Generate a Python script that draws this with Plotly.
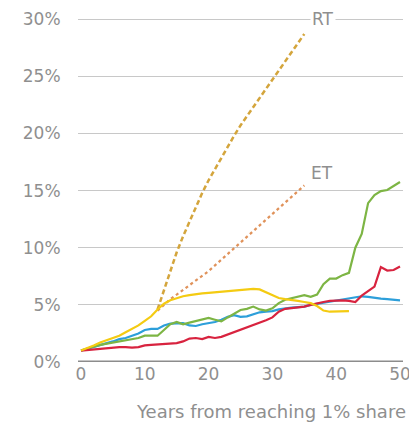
import plotly.graph_objects as go

years_yellow = list(range(0, 43))
yellow = [1.0, 1.2, 1.45, 1.7, 1.9, 2.05, 2.3, 2.6, 2.9, 3.2, 3.6, 4.0, 4.6, 5.1, 5.4, 5.6,
          5.75, 5.85, 5.95, 6.0, 6.05, 6.1, 6.15, 6.2, 6.25, 6.3, 6.35, 6.4, 6.35, 6.1, 5.8,
          5.6, 5.5, 5.45, 5.35, 5.25, 5.15, 4.9, 4.5, 4.4, 4.4, 4.45, 4.45]

years_full = list(range(0, 51))
blue = [1.0, 1.15, 1.3, 1.5, 1.65, 1.8, 2.0, 2.1, 2.3, 2.5, 2.8, 2.9, 2.9, 3.2, 3.35, 3.4,
        3.4, 3.2, 3.15, 3.3, 3.4, 3.5, 3.7, 3.95, 4.1, 3.95, 4.0, 4.2, 4.35, 4.4, 4.45,
        4.6, 4.7, 4.75, 4.8, 4.85, 5.0, 5.1, 5.2, 5.3, 5.4, 5.5, 5.55, 5.7, 5.75, 5.7,
        5.6, 5.55, 5.5, 5.45, 5.4]
green = [1.0, 1.2, 1.35, 1.5, 1.6, 1.7, 1.8, 1.85, 1.95, 2.1, 2.3, 2.3, 2.3, 2.8, 3.3, 3.5,
         3.3, 3.45, 3.6, 3.75, 3.85, 3.7, 3.55, 3.9, 4.25, 4.55, 4.65, 4.85, 4.6, 4.5, 4.7,
         5.15, 5.45, 5.6, 5.75, 5.85, 5.7, 5.9, 6.8, 7.3, 7.3, 7.6, 7.8, 10.0, 11.2, 13.9,
         14.6, 14.95, 15.05, 15.4, 15.75]
red = [1.0, 1.05, 1.1, 1.15, 1.25, 1.3, 1.3, 1.3, 1.25, 1.3, 1.45, 1.5, 1.55, 1.6, 1.6, 1.65,
       1.8, 2.05, 2.1, 2.0, 2.2, 2.1, 2.2, 2.4, 2.6, 2.85, 3.05, 3.25, 3.45, 3.65, 3.9,
       4.4, 4.65, 4.7, 4.8, 4.85, 5.0, 5.15, 5.25, 5.35, 5.4, 5.4, 5.35, 5.25, 5.8, 6.2,
       6.6, 8.3, 8.0, 8.05, 8.35]

years_proj = list(range(12, 36))
rt = [4.6, 6.3, 8.0, 9.6, 11.0, 12.3, 13.6, 14.8, 15.9, 16.9, 17.9, 18.9, 19.8, 20.7, 21.5,
      22.3, 23.1, 23.9, 24.7, 25.5, 26.3, 27.1, 27.9, 28.7]
et = [4.5, 5.0, 5.5, 5.9, 6.3, 6.7, 7.1, 7.5, 7.95, 8.45, 8.95, 9.45, 9.95, 10.45, 10.95,
      11.45, 11.95, 12.45, 12.95, 13.45, 13.95, 14.45, 14.95, 15.45]

y_ticks = [0, 5, 10, 15, 20, 25, 30]
y_tick_labels = ["0%", "5%", "10%", "15%", "20%", "25%", "30%"]
x_ticks = [0, 10, 20, 30, 40, 50]

fig = go.Figure()
fig.add_trace(go.Scatter(x=years_proj, y=rt, mode="lines",
                         line=dict(color="#D4A53C", width=2.5, dash="5px,3px")))
fig.add_trace(go.Scatter(x=years_proj, y=et, mode="lines",
                         line=dict(color="#E0925A", width=2.2, dash="3px,3px")))
fig.add_trace(go.Scatter(x=years_full, y=blue, mode="lines",
                         line=dict(color="#2D9FDA", width=2.2)))
fig.add_trace(go.Scatter(x=years_full, y=green, mode="lines",
                         line=dict(color="#7DB544", width=2.2)))
fig.add_trace(go.Scatter(x=years_full, y=red, mode="lines",
                         line=dict(color="#D8233F", width=2.2)))
fig.add_trace(go.Scatter(x=years_yellow, y=yellow, mode="lines",
                         line=dict(color="#F4CB12", width=2.2)))

font_family = "DejaVu Sans, sans-serif"
text_color = "#8f8f8f"
fig.add_annotation(x=37.9, y=30, text="RT", showarrow=False, bgcolor="white",
                   font=dict(family=font_family, size=17, color=text_color))
fig.add_annotation(x=37.7, y=16.5, text="ET", showarrow=False, bgcolor="white",
                   font=dict(family=font_family, size=17, color=text_color))
fig.add_annotation(xref="paper", yref="paper", x=1.015, y=-0.142, xanchor="right",
                   yanchor="middle", text="Years from reaching 1% share", showarrow=False,
                   font=dict(family=font_family, size=18, color=text_color))

fig.update_layout(
    width=409, height=419,
    margin=dict(l=70, r=14, t=2, b=65),
    paper_bgcolor="white", plot_bgcolor="white",
    showlegend=False,
    font=dict(family=font_family, size=17, color=text_color),
)
fig.update_xaxes(range=[-0.47, 50.47], tickvals=x_ticks, showgrid=False, zeroline=False,
                 showline=False, ticks="", tickfont=dict(size=17, color=text_color))
fig.update_yaxes(range=[0, 30.8], tickvals=y_ticks, ticktext=y_tick_labels,
                 showgrid=True, gridcolor="#c8c8c8", gridwidth=1,
                 zeroline=False, showline=False, ticks="outside", ticklen=13,
                 tickcolor="rgba(0,0,0,0)", tickfont=dict(size=17, color=text_color))
fig.add_shape(type="line", xref="paper", yref="y", x0=0, x1=1, y0=0, y1=0,
              line=dict(color="#8c8c8c", width=3), layer="below")

fig.write_html("out.html")
